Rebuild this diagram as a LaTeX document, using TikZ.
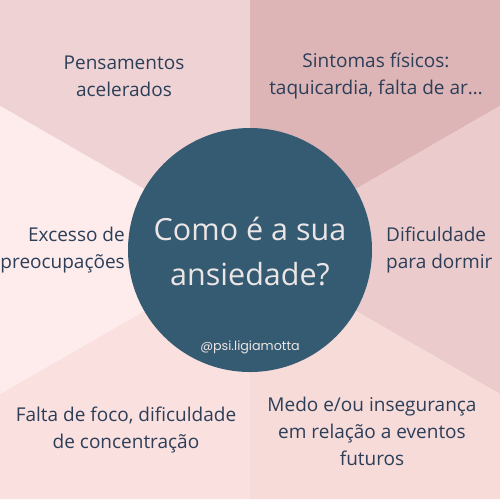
\documentclass[tikz,border=0pt]{standalone}
\usepackage{fontspec}
\setmainfont{Open Sans}
\newfontfamily\handlefont{Poppins}
\usetikzlibrary{positioning}

\definecolor{petal1}{RGB}{239,211,212}
\definecolor{petal2}{RGB}{221,181,183}
\definecolor{petal3}{RGB}{235,203,204}
\definecolor{petal4}{RGB}{246,219,217}
\definecolor{petal5}{RGB}{250,224,223}
\definecolor{petal6}{RGB}{253,236,235}
\definecolor{discblue}{RGB}{52,91,114}
\definecolor{inkblue}{RGB}{44,62,88}
\definecolor{paleink}{RGB}{236,229,229}

\begin{document}
\begin{tikzpicture}[x=1pt, y=-1pt,
	label/.style={text=inkblue, inner sep=0pt, font=\fontsize{19}{27}\selectfont},
	disc/.style={circle, fill=discblue, minimum size=244pt, inner sep=0pt}]
	\useasboundingbox (0, 0) rectangle (500, 499);
	\coordinate (c) at (250, 250);
	% six slices round the centre
	\fill [petal1] (c) -- (250, 0) -- (0, 0) -- (0, 106) -- cycle;
	\fill [petal2] (c) -- (250, 0) -- (500, 0) -- (500, 106) -- cycle;
	\fill [petal3] (c) -- (500, 106) -- (500, 394) -- cycle;
	\fill [petal4] (c) -- (500, 394) -- (500, 499) -- (250, 499) -- cycle;
	\fill [petal5] (c) -- (250, 499) -- (0, 499) -- (0, 394) -- cycle;
	\fill [petal6] (c) -- (0, 394) -- (0, 106) -- cycle;
	\node (q) [disc] at (c) {};
	\node (title) [text=paleink, align=center, font=\fontsize{30.5}{45}\selectfont] at (250, 252) {Como é a sua\\ansiedade?};
	\node (handle) [text=paleink, font=\handlefont\fontsize{12.7}{14}\selectfont] at (250, 347) {@psi.ligiamotta};
	\node (thoughts) [label, align=center] at (124, 76) {Pensamentos\\acelerados};
	\node (body) [label, align=center] at (376, 76) {Sintomas físicos:\\taquicardia, falta de ar…};
	\node (worry) [label, align=right, anchor=east] at (125, 250) {Excesso de\\preocupações};
	\node (sleep) [label, align=left, anchor=west] at (386, 250) {Dificuldade\\para dormir};
	\node (focus) [label, align=center] at (126, 430) {Falta de foco, dificuldade\\de concentração};
	\node (fear) [label, align=center] at (372, 431) {Medo e/ou insegurança\\em relação a eventos\\futuros};
\end{tikzpicture}
\end{document}
